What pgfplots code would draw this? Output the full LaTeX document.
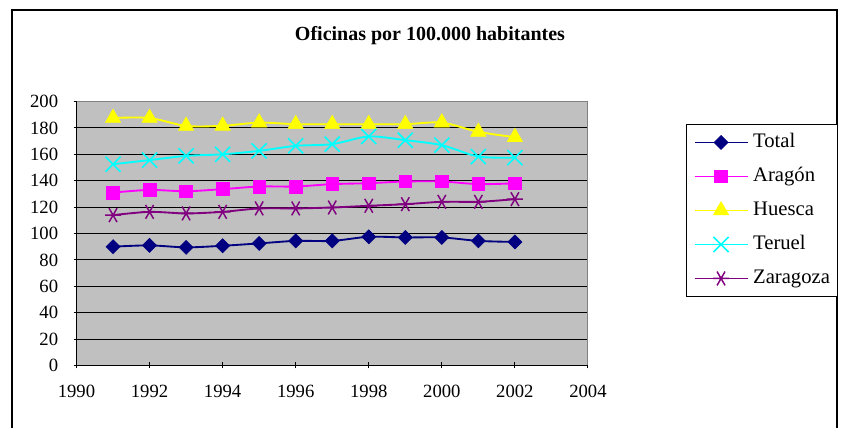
\documentclass[border=0pt]{standalone}
\usepackage{fontspec}
\setmainfont{Liberation Serif}
\usepackage{pgfplots}
\pgfplotsset{compat=1.18}
\definecolor{cTotal}{HTML}{000080}
\definecolor{cArag}{HTML}{FF00FF}
\definecolor{cHues}{HTML}{FFFF00}
\definecolor{cTer}{HTML}{00FFFF}
\definecolor{cZar}{HTML}{800080}
\definecolor{bgc}{HTML}{C0C0C0}
\definecolor{brd}{HTML}{808080}
\begin{document}
\begin{tikzpicture}[x=0.75pt,y=0.75pt]
\useasboundingbox (0,0) rectangle (843,428);
\draw[line width=1pt] (12,-5) -- (12,418) -- (837,418) -- (837,-5);
\node[font=\bfseries\fontsize{15}{18}\selectfont, anchor=base] at (430,387) {Oficinas por 100.000 habitantes};
\begin{axis}[
  at={(57.375pt,46.875pt)}, anchor=south west,
  scale only axis, width=383.6pt, height=198pt,
  xmin=1990, xmax=2004, ymin=0, ymax=200,
  xtick={1990,1992,...,2004}, ytick={0,20,...,200},
  axis x line*=bottom, axis y line*=left,
  axis line style={-, black, line width=0.9pt},
  axis background/.style={fill=bgc},
  ymajorgrids, grid style={black, line width=0.6pt},
  tick align=center, major tick length=4.5pt,
  tick style={black, line width=0.75pt},
  /pgf/number format/assume math mode=true,
  /pgf/number format/1000 sep={},
  tick label style={font=\fontsize{14}{16}\selectfont},
  xticklabel style={yshift=-9pt},
  yticklabel style={xshift=-8pt},
  every axis plot/.append style={line width=1.4pt, smooth},
  legend style={at={(1.191,0.914)}, anchor=north west, draw=black, line width=0.9pt, fill=white,
    font=\fontsize{15.5}{18}\selectfont, row sep=11pt, column sep=3.5pt,
    inner xsep=5.5pt, inner ysep=6pt,
    nodes={inner sep=0pt, text height=11pt, text depth=3.5pt}},
  legend cell align=left,
  legend image code/.code={\draw[mark repeat=2,mark phase=2] plot coordinates {(0pt,0pt) (19.9pt,0pt) (39.75pt,0pt)};},
]
\addplot[cTotal, mark=square*, mark size=3.7pt, mark options={rotate=45, solid, fill=cTotal, line width=0.5pt}] coordinates {
(1991,90) (1992,91) (1993,89.5) (1994,90.7) (1995,92.5) (1996,94.4) (1997,94.4) (1998,97.5) (1999,97) (2000,97) (2001,94.4) (2002,93.6)};
\addlegendentry{Total}
\addplot[cArag, mark=square*, mark size=4.75pt, mark options={solid, fill=cArag, line width=0.5pt}] coordinates {
(1991,131) (1992,133) (1993,132) (1994,133.6) (1995,135.6) (1996,135.6) (1997,137.4) (1998,138.1) (1999,139.4) (2000,139.4) (2001,137.4) (2002,138)};
\addlegendentry{Aragón}
\addplot[cHues, mark=triangle*, mark size=6.6pt, mark options={solid, fill=cHues, line width=0.5pt}] coordinates {
(1991,187.5) (1992,187.5) (1993,181.5) (1994,181.6) (1995,184) (1996,182.8) (1997,182.8) (1998,182.8) (1999,182.8) (2000,184) (2001,177) (2002,173)};
\addlegendentry{Huesca}
\addplot[cTer, mark=x, mark size=8pt, mark options={solid, line width=1.2pt}] coordinates {
(1991,152.5) (1992,155.6) (1993,158.8) (1994,160) (1995,162.6) (1996,166.4) (1997,167.7) (1998,173.5) (1999,170.7) (2000,166.9) (2001,158.3) (2002,157.5)};
\addlegendentry{Teruel}
\addplot[cZar, mark=asterisk, mark size=6pt, mark options={solid, rotate=90, line width=1.1pt}] coordinates {
(1991,113.9) (1992,116.4) (1993,115.2) (1994,116.4) (1995,119) (1996,119) (1997,119.7) (1998,121) (1999,122.2) (2000,124) (2001,124) (2002,126)};
\addlegendentry{Zaragoza}
\draw[brd, line width=1.2pt] (axis description cs:0,1) -- (axis description cs:1,1) -- (axis description cs:1,0);
\end{axis}
\end{tikzpicture}
\end{document}
